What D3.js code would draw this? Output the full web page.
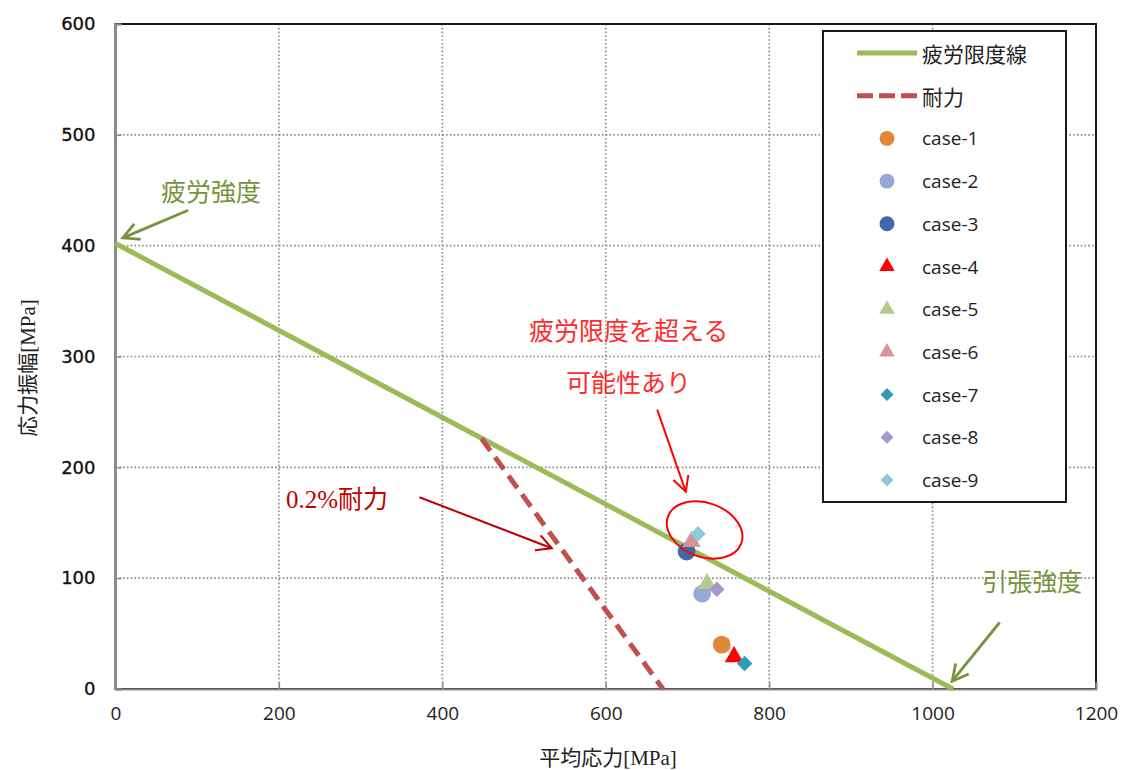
<!DOCTYPE html>
<html>
<head>
<meta charset="utf-8">
<script src="https://cdn.jsdelivr.net/npm/d3@7"></script>
<style>
  html, body { margin: 0; padding: 0; background: #fff; }
  svg { display: block; }
</style>
</head>
<body>
<svg id="chart" width="1121" height="770"></svg>
<script>
// ---------- data ----------
const xTicks = [0, 200, 400, 600, 800, 1000, 1200];
const yTicks = [0, 100, 200, 300, 400, 500, 600];

// fatigue limit line (疲労限度線): fatigue strength -> tensile strength
const fatigueLine = [[0, 402], [1025, 0]];
// 0.2% proof line (耐力)
const proofLine = [[448, 226], [670, 0]];

const caseNames  = ["case-1","case-2","case-3","case-4","case-5","case-6","case-7","case-8","case-9"];
const caseX      = [742, 718, 699, 757, 724, 705, 770, 736, 713];
const caseY      = [40, 86, 124, 29, 95, 133, 23, 90, 140];
const caseShape  = ["circle","circle","circle","triangle","triangle","triangle","diamond","diamond","diamond"];
const caseColor  = ["#E2863A","#93ABD6","#3F68A8","#FF0000","#B3CC8E","#D9949A","#3499B6","#A698C9","#8FCBDE"];

const legendNames = ["疲労限度線", "耐力"].concat(caseNames);

// annotations (data coordinates)
const annFatigueStrength = {text: "疲労強度", at: [117, 448], from: [89, 432], to: [9, 407]};
const annTensile = {text: "引張強度", at: [1122, 96], from: [1082, 60], to: [1024, 7]};
const annExceed1 = {text: "疲労限度を超える", at: [628, 323]};
const annExceed2 = {text: "可能性あり", at: [628, 276]};
const annExceedArrow = {from: [663, 252], to: [698, 178]};
const annCircle = {at: [721, 143.5]};
const annProof = {text: "0.2%耐力", at: [271, 171], from: [372, 173], to: [534, 127]};

// ---------- chart ----------
const svg = d3.select("#chart");
const x = d3.scaleLinear().domain([0, 1200]).range([115.5, 1096]);
const y = d3.scaleLinear().domain([0, 600]).range([689, 24]);

const cjkSerif = "'Liberation Serif','Noto Sans CJK JP',serif";

// gridlines
const grid = svg.append("g");
grid.selectAll("line.gx").data(xTicks.filter(d => d > 0 && d < 1200)).join("line")
  .attr("x1", d => x(d)).attr("x2", d => x(d))
  .attr("y1", y(600)).attr("y2", y(0))
  .attr("stroke", "#8a8a8a").attr("stroke-width", 1.6).attr("stroke-dasharray", "1.6,2.2");
grid.selectAll("line.gy").data(yTicks.filter(d => d > 0 && d < 600)).join("line")
  .attr("x1", x(0)).attr("x2", x(1200))
  .attr("y1", d => y(d)).attr("y2", d => y(d))
  .attr("stroke", "#8a8a8a").attr("stroke-width", 1.6).attr("stroke-dasharray", "1.6,2.2");

// plot border (top/right dark)
svg.append("rect")
  .attr("x", x(0)).attr("y", y(600))
  .attr("width", x(1200) - x(0)).attr("height", y(0) - y(600))
  .attr("fill", "none").attr("stroke", "#1a1a1a").attr("stroke-width", 2);

// axes
const xAxis = d3.axisBottom(x).tickValues(xTicks).tickSize(-7).tickPadding(18).tickFormat(d3.format("d"));
const gx = svg.append("g").attr("transform", `translate(0,${y(0)})`).call(xAxis);
gx.select(".domain").attr("stroke", "#8c8c8c").attr("stroke-width", 2);
gx.selectAll(".tick line").attr("stroke", "#8c8c8c").attr("stroke-width", 1.5);
gx.selectAll(".tick text")
  .attr("font-family", "'Open Sans', sans-serif").attr("font-size", 19).attr("fill", "#222");

const yAxis = d3.axisLeft(y).tickValues(yTicks).tickSize(-6).tickPadding(20).tickFormat(d3.format("d"));
const gy = svg.append("g").attr("transform", `translate(${x(0)},0)`).call(yAxis);
gy.select(".domain").attr("stroke", "#8c8c8c").attr("stroke-width", 2);
gy.selectAll(".tick line").attr("stroke", "#8c8c8c").attr("stroke-width", 1.5);
gy.selectAll(".tick text")
  .attr("font-family", "'DejaVu Sans', sans-serif").attr("font-size", 18).attr("fill", "#111")
  .attr("stroke", "#111").attr("stroke-width", 0.35);

// axis titles
svg.append("text").text("平均応力[MPa]")
  .attr("x", 608).attr("y", 758).attr("text-anchor", "middle").attr("dominant-baseline", "central")
  .attr("font-family", cjkSerif).attr("font-size", 21).attr("fill", "#222");
svg.append("text").text("応力振幅[MPa]")
  .attr("transform", "translate(28,368) rotate(-90)").attr("text-anchor", "middle").attr("dominant-baseline", "central")
  .attr("font-family", cjkSerif).attr("font-size", 21).attr("fill", "#222");

// lines
const line = d3.line().x(d => x(d[0])).y(d => y(d[1]));
svg.append("path").attr("d", line(fatigueLine))
  .attr("fill", "none").attr("stroke", "#9BBB59").attr("stroke-width", 5);
svg.append("path").attr("d", line(proofLine))
  .attr("fill", "none").attr("stroke", "#C0504D").attr("stroke-width", 5).attr("stroke-dasharray", "15,8");

// markers
const symType = {circle: d3.symbolCircle, triangle: d3.symbolTriangle, diamond: d3.symbolSquare};
function symPath(shape, scale) {
  const sizes = {circle: 250, triangle: 150, diamond: 120};
  return d3.symbol().type(symType[shape]).size(sizes[shape] * scale)();
}
const pts = caseNames.map((n, i) => ({name: n, x: caseX[i], y: caseY[i], shape: caseShape[i], color: caseColor[i]}));
svg.append("g").selectAll("path").data(pts).join("path")
  .attr("d", d => symPath(d.shape, 1))
  .attr("transform", d => `translate(${x(d.x)},${y(d.y)})` + (d.shape === "diamond" ? " rotate(45)" : ""))
  .attr("fill", d => d.color);

// arrow helper
function arrow(g, from, to, color, width, head) {
  const x1 = x(from[0]), y1 = y(from[1]), x2 = x(to[0]), y2 = y(to[1]);
  g.append("line").attr("x1", x1).attr("y1", y1).attr("x2", x2).attr("y2", y2)
    .attr("stroke", color).attr("stroke-width", width);
  const a = Math.atan2(y2 - y1, x2 - x1), h = head, s = Math.PI / 6.5;
  const p1 = [x2 - h * Math.cos(a - s), y2 - h * Math.sin(a - s)];
  const p2 = [x2 - h * Math.cos(a + s), y2 - h * Math.sin(a + s)];
  g.append("path").attr("d", `M${p1[0]},${p1[1]}L${x2},${y2}L${p2[0]},${p2[1]}`)
    .attr("fill", "none").attr("stroke", color).attr("stroke-width", width)
    .attr("stroke-linejoin", "miter");
}

const ann = svg.append("g");
const green = "#77933C";
function annText(a, color) {
  ann.append("text").text(a.text)
    .attr("x", x(a.at[0])).attr("y", y(a.at[1]))
    .attr("text-anchor", "middle").attr("dominant-baseline", "central")
    .attr("font-family", cjkSerif).attr("font-size", 25).attr("fill", color);
}
annText(annFatigueStrength, green);
arrow(ann, annFatigueStrength.from, annFatigueStrength.to, green, 2.8, 18);
annText(annTensile, green);
arrow(ann, annTensile.from, annTensile.to, green, 2.8, 18);
annText(annExceed1, "#FF2A2A");
annText(annExceed2, "#FF2A2A");
arrow(ann, annExceedArrow.from, annExceedArrow.to, "#FF0000", 2, 17);
ann.append("ellipse")
  .attr("cx", 0).attr("cy", 0).attr("rx", 39).attr("ry", 27)
  .attr("transform", `translate(${x(annCircle.at[0])},${y(annCircle.at[1])}) rotate(20)`)
  .attr("fill", "none").attr("stroke", "#FF0000").attr("stroke-width", 2);
annText(annProof, "#C00000");
arrow(ann, annProof.from, annProof.to, "#C00000", 2, 17);

// legend
const leg = svg.append("g");
leg.append("rect").attr("x", 823).attr("y", 31).attr("width", 243).attr("height", 471)
  .attr("fill", "#fff").attr("stroke", "#1a1a1a").attr("stroke-width", 2);
const ly = d3.scalePoint().domain(legendNames).range([53, 480]);
leg.append("line").attr("x1", 857).attr("x2", 917).attr("y1", ly("疲労限度線")).attr("y2", ly("疲労限度線"))
  .attr("stroke", "#9BBB59").attr("stroke-width", 5);
leg.append("line").attr("x1", 857).attr("x2", 917).attr("y1", ly("耐力")).attr("y2", ly("耐力"))
  .attr("stroke", "#C0504D").attr("stroke-width", 5).attr("stroke-dasharray", "16,6");
leg.selectAll("text.cj").data(["疲労限度線", "耐力"]).join("text")
  .attr("x", 922).attr("y", d => ly(d)).attr("dominant-baseline", "central")
  .attr("font-family", "'Noto Sans CJK JP', sans-serif").attr("font-size", 21).attr("fill", "#222")
  .text(d => d);
leg.selectAll("path.mk").data(pts).join("path")
  .attr("d", d => symPath(d.shape, 0.7))
  .attr("transform", d => `translate(887,${ly(d.name)})` + (d.shape === "diamond" ? " rotate(45)" : ""))
  .attr("fill", d => d.color);
leg.selectAll("text.cs").data(pts).join("text")
  .attr("x", 922).attr("y", d => ly(d.name)).attr("dominant-baseline", "central")
  .attr("font-family", "'Open Sans', sans-serif").attr("font-size", 19).attr("fill", "#222")
  .text(d => d.name);
</script>
</body>
</html>
